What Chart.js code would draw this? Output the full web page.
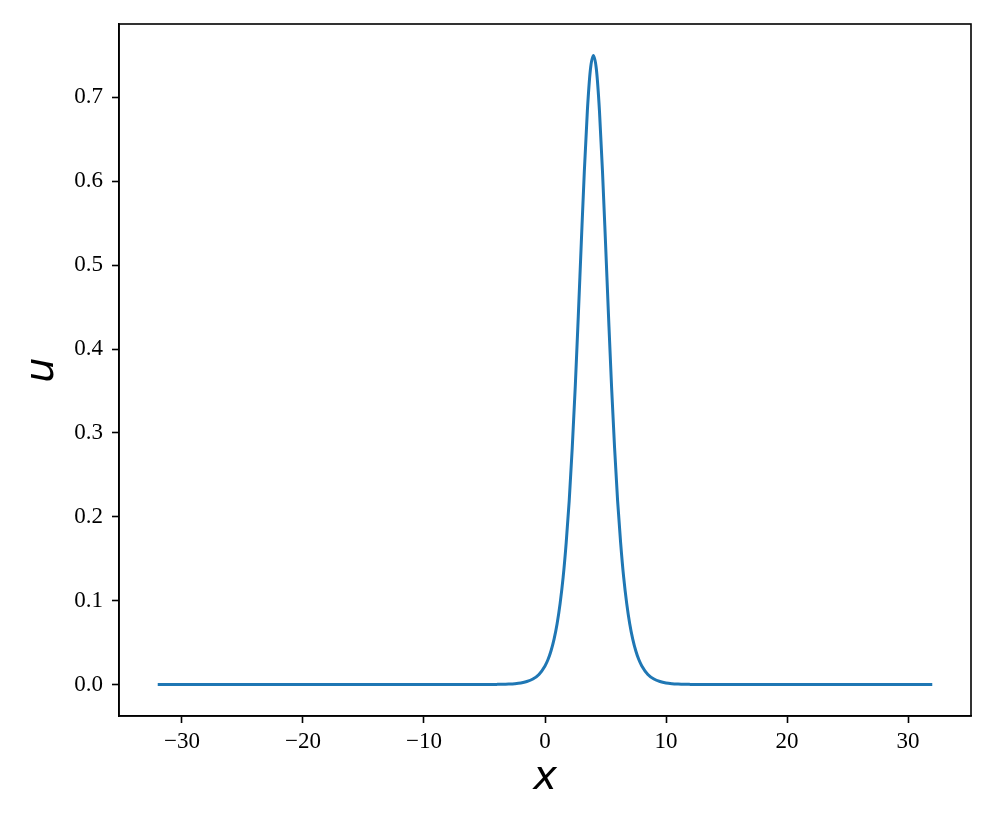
<!DOCTYPE html>
<html>
<head>
<meta charset="utf-8">
<script src="https://cdn.jsdelivr.net/npm/chart.js@4.4.0/dist/chart.umd.min.js"></script>
<style>
  html, body { margin: 0; padding: 0; background: #ffffff; }
  #wrap { width: 996px; height: 830px; }
</style>
</head>
<body>
<div id="wrap"><canvas id="c" width="996" height="830"></canvas></div>
<script>
// Data
const xValues = [-32, -24, -16, -10, -6, -4, -3.5, -3, -2.5, -2, -1.5, -1, -0.5, 0, 0.25, 0.5, 0.75, 1, 1.25, 1.5, 1.75, 2, 2.25, 2.5, 2.75, 3, 3.25, 3.5, 3.75, 4,
                 4.25, 4.5, 4.75, 5, 5.25, 5.5, 5.75, 6, 6.25, 6.5, 6.75, 7, 7.25, 7.5, 7.75, 8, 8.5, 9, 9.5, 10, 10.5, 11, 11.5, 12, 14, 18, 24, 32];
const uValues = [0, 0, 0, 0, 0.00002, 0.0002, 0.00031, 0.0006, 0.00105, 0.0019, 0.0036, 0.0066, 0.0121, 0.0222, 0.0298, 0.0403, 0.0542, 0.0725, 0.0968, 0.128, 0.169, 0.219, 0.282, 0.355, 0.439, 0.527, 0.612, 0.684, 0.733, 0.75,
                 0.733, 0.684, 0.612, 0.527, 0.439, 0.355, 0.282, 0.219, 0.169, 0.128, 0.0968, 0.0725, 0.0542, 0.0403, 0.0298, 0.0222, 0.0121, 0.0066, 0.0036, 0.0019, 0.00105, 0.0006, 0.00031, 0.0002, 0.00002, 0, 0, 0];
const xTicks = [-30, -20, -10, 0, 10, 20, 30];
const yTicks = [0.0, 0.1, 0.2, 0.3, 0.4, 0.5, 0.6, 0.7];
const xLabel = 'x';
const yLabel = 'u';

const points = xValues.map((x, i) => ({ x: x, y: uValues[i] }));

const framePlugin = {
  id: 'frame',
  afterDraw(chart) {
    const { ctx, chartArea: a } = chart;
    ctx.save();
    ctx.strokeStyle = '#000000';
    ctx.lineWidth = 1.6;
    ctx.strokeRect(a.left, a.top, a.right - a.left, a.bottom - a.top);
    ctx.restore();
  }
};

function fmtX(v) {
  const s = String(Math.abs(Math.round(v)));
  return v < 0 ? '\u2212' + s : s;
}

new Chart(document.getElementById('c'), {
  type: 'line',
  data: {
    datasets: [{
      data: points,
      borderColor: '#1f77b4',
      borderWidth: 3,
      pointRadius: 0,
      fill: false,
      cubicInterpolationMode: 'monotone'
    }]
  },
  options: {
    responsive: false,
    animation: false,
    devicePixelRatio: 1,
    layout: { padding: { top: 24, right: 25, left: 0, bottom: 0 } },
    plugins: { legend: { display: false }, tooltip: { enabled: false } },
    scales: {
      x: {
        type: 'linear',
        min: -35.2,
        max: 35.2,
        afterBuildTicks(scale) { scale.ticks = xTicks.map(v => ({ value: v })); },
        afterFit(scale) { scale.height = 114; },
        ticks: {
          color: '#000000',
          font: { family: 'Liberation Serif', size: 23 },
          padding: 5,
          maxRotation: 0,
          callback: (v) => fmtX(v)
        },
        grid: { drawOnChartArea: false, drawTicks: true, tickLength: 7, tickColor: '#000000', tickWidth: 1.6 },
        border: { display: true, color: '#000000', width: 1.6 },
        title: {
          display: true,
          text: xLabel,
          color: '#000000',
          font: { family: 'DejaVu Sans', size: 40, style: 'italic' },
          padding: { top: 0, bottom: 27 }
        }
      },
      y: {
        type: 'linear',
        min: -0.0375,
        max: 0.7875,
        afterBuildTicks(scale) { scale.ticks = yTicks.map(v => ({ value: v })); },
        afterFit(scale) { scale.width = 119; },
        ticks: {
          color: '#000000',
          font: { family: 'Liberation Serif', size: 23 },
          padding: 9,
          callback: (v) => Number(v).toFixed(1)
        },
        grid: { drawOnChartArea: false, drawTicks: true, tickLength: 7, tickColor: '#000000', tickWidth: 1.6 },
        border: { display: true, color: '#000000', width: 1.6 },
        title: {
          display: true,
          text: yLabel,
          color: '#000000',
          font: { family: 'DejaVu Sans', size: 40, style: 'italic' },
          padding: { top: 19, bottom: 0 }
        }
      }
    }
  },
  plugins: [framePlugin]
});
</script>
</body>
</html>
